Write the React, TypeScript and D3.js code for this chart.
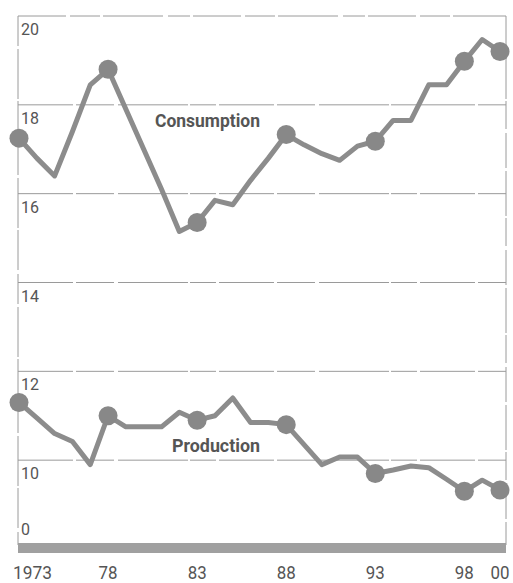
import { useEffect, useRef } from 'react';
import * as d3 from 'd3';

// Oil consumption vs production, 1973-2000 (million barrels per day)
const years = [
  1973, 1974, 1975, 1976, 1977, 1978, 1979, 1980, 1981, 1982, 1983, 1984, 1985, 1986,
  1987, 1988, 1989, 1990, 1991, 1992, 1993, 1994, 1995, 1996, 1997, 1998, 1999, 2000,
];
const consumption = [
  17.25, 16.8, 16.4, 17.4, 18.45, 18.8, 17.9, 17.0, 16.1, 15.15, 15.35, 15.85, 15.75, 16.3,
  16.8, 17.33, 17.1, 16.9, 16.75, 17.07, 17.18, 17.65, 17.65, 18.45, 18.45, 18.98, 19.47, 19.2,
];
const production = [
  11.3, 10.95, 10.6, 10.42, 9.9, 11.0, 10.75, 10.75, 10.75, 11.08, 10.9, 11.0, 11.4, 10.85,
  10.85, 10.8, 10.35, 9.9, 10.07, 10.07, 9.7, 9.78, 9.87, 9.83, 9.57, 9.3, 9.55, 9.33,
];
const markerYears = [1973, 1978, 1983, 1988, 1993, 1998, 2000];
const gridValues = [10, 12, 14, 16, 18];
const yTickValues = [10, 12, 14, 16, 18, 20];
const xTickValues = [1973, 1978, 1983, 1988, 1993, 1998, 2000];
const xTickLabels = ['1973', '78', '83', '88', '93', '98', '00'];

const W = 513, H = 583;

export default function App() {
  const svgRef = useRef<SVGSVGElement>(null);

  useEffect(() => {
    if (!svgRef.current) return;
    const svg = d3.select(svgRef.current);
    svg.selectAll('*').remove();

    const left = 18, right = 506, top = 16, bottom = 545;
    const x = d3.scaleLinear().domain([1973, 2000]).range([19, 500]);
    const y = d3.scaleLinear().domain([8, 20]).range([549, top]);

    // frame
    const frame = svg.append('g').attr('stroke', '#9a9a9a').attr('stroke-width', 1).attr('fill', 'none');
    frame.append('line').attr('x1', left).attr('x2', right).attr('y1', top).attr('y2', top)
      .attr('stroke-dasharray', '48 4 30 3 60 5 22 3');
    frame.append('line').attr('x1', left).attr('x2', left).attr('y1', top).attr('y2', bottom)
      .attr('stroke-dasharray', '30 3 50 2 40 4');
    frame.append('line').attr('x1', right).attr('x2', right).attr('y1', top).attr('y2', bottom)
      .attr('stroke-dasharray', '35 3 45 2 28 4');

    // gridlines
    svg.append('g').selectAll('line').data(gridValues).enter().append('line')
      .attr('x1', left).attr('x2', right)
      .attr('y1', d => y(d)).attr('y2', d => y(d))
      .attr('stroke', '#9a9a9a').attr('stroke-width', 1)
      .attr('stroke-dasharray', '55 3 38 4 70 2 26 3');

    // y tick labels (axis break: 0 at the bottom)
    svg.append('g').selectAll('text').data(yTickValues).enter().append('text')
      .attr('x', 21).attr('y', d => y(d) + 19)
      .attr('font-family', 'Roboto, sans-serif').attr('font-size', 16).attr('fill', '#555')
      .text(d => d);
    svg.append('text').attr('x', 21).attr('y', 535)
      .attr('font-family', 'Roboto, sans-serif').attr('font-size', 16).attr('fill', '#555')
      .text('0');

    // baseline bar
    svg.append('rect').attr('x', left).attr('y', 543).attr('width', right - left).attr('height', 10)
      .attr('fill', '#a0a0a0');

    // x tick labels (condensed)
    svg.append('g').selectAll('text').data(xTickValues).enter().append('text')
      .attr('x', (d, i) => (i === 0 ? 13 : x(d)))
      .attr('y', 579)
      .attr('text-anchor', (d, i) => (i === 0 ? 'start' : 'middle'))
      .attr('font-family', 'Roboto, sans-serif')
      .attr('font-size', 19).attr('fill', '#555')
      .attr('textLength', (d, i) => xTickLabels[i].length * 10 - 1)
      .attr('lengthAdjust', 'spacingAndGlyphs')
      .text((d, i) => xTickLabels[i]);

    // series
    const series = [consumption, production];
    const line = d3.line<number>().x((d, i) => x(years[i])).y(d => y(d));
    series.forEach(values => {
      svg.append('path').datum(values).attr('d', line)
        .attr('fill', 'none').attr('stroke', '#8c8c8c').attr('stroke-width', 5)
        .attr('stroke-linejoin', 'round');
      svg.append('g').selectAll('circle').data(markerYears).enter().append('circle')
        .attr('cx', d => x(d)).attr('cy', d => y(values[years.indexOf(d)]))
        .attr('r', 9.5).attr('fill', '#888');
    });

    // series labels
    svg.append('text').attr('x', 155).attr('y', 127)
      .attr('font-family', 'Roboto, sans-serif')
      .attr('font-weight', 'bold').attr('font-size', 18).attr('fill', '#555')
      .attr('textLength', 105).attr('lengthAdjust', 'spacingAndGlyphs')
      .text('Consumption');
    svg.append('text').attr('x', 172).attr('y', 452)
      .attr('font-family', 'Roboto, sans-serif')
      .attr('font-weight', 'bold').attr('font-size', 18).attr('fill', '#555')
      .attr('textLength', 88).attr('lengthAdjust', 'spacingAndGlyphs')
      .text('Production');
  }, []);

  return (
    <svg ref={svgRef} width={W} height={H} viewBox={`0 0 ${W} ${H}`}
      style={{ position: 'absolute', left: 0, top: 0, background: '#fff' }} />
  );
}
